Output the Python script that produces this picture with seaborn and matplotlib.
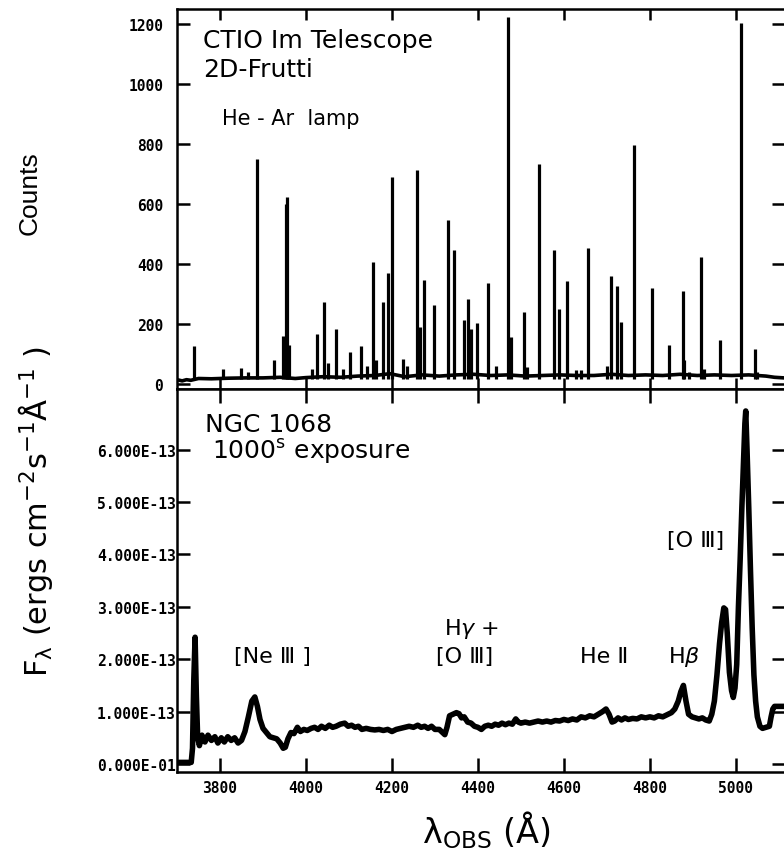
import seaborn as sns
import matplotlib.pyplot as plt

# He-Ar lamp spectrum: continuum level and emission line peaks (counts)
lamp_base_wl = [3700, 3712, 3722, 3732, 3750, 3780, 3820, 3860, 3900, 3940, 3975,
                4000, 4040, 4080, 4120, 4160, 4195, 4230, 4270, 4310, 4350, 4390,
                4430, 4470, 4510, 4550, 4590, 4630, 4670, 4710, 4750, 4790, 4830,
                4870, 4910, 4950, 4990, 5030, 5070, 5090, 5112]
lamp_base_counts = [14, 10, 14, 12, 18, 17, 19, 20, 20, 22, 18,
                    21, 24, 22, 26, 28, 34, 24, 30, 26, 30, 32,
                    28, 30, 26, 28, 30, 28, 28, 32, 28, 30, 28,
                    32, 28, 30, 28, 30, 26, 22, 20]
lamp_line_wl = [3740, 3806, 3848, 3865, 3886, 3926, 3946, 3953, 3956, 3961,
                4013, 4025, 4043, 4051, 4070, 4085, 4102, 4129, 4141, 4157,
                4162, 4180, 4190, 4200, 4226, 4234, 4258, 4266, 4275, 4298,
                4331, 4345, 4368, 4377, 4384, 4398, 4423, 4443, 4469, 4477,
                4508, 4513, 4543, 4577, 4588, 4608, 4628, 4640, 4656, 4700,
                4709, 4724, 4733, 4764, 4804, 4845, 4877, 4880, 4890, 4920,
                4926, 4963, 5013, 5044, 5050]
lamp_line_counts = [127, 50, 53, 40, 750, 80, 160, 600, 623, 130,
                    50, 167, 274, 70, 183, 50, 108, 127, 60, 408,
                    80, 274, 370, 690, 83, 60, 714, 190, 345, 262,
                    545, 447, 214, 282, 184, 203, 337, 60, 1222, 157,
                    239, 55, 733, 447, 250, 344, 45, 45, 453, 60,
                    361, 326, 208, 797, 319, 130, 311, 80, 40, 424,
                    50, 148, 1203, 117, 40]

# NGC 1068 spectrum, F_lambda in units of 1e-13 erg cm^-2 s^-1 A^-1
ngc_wl = [3700, 3720, 3733, 3736, 3739, 3742, 3745, 3748, 3752, 3758, 3765, 3772,
          3780, 3788, 3795, 3803, 3810, 3818, 3826, 3834, 3842, 3850, 3858, 3866,
          3874, 3881, 3887, 3893, 3900, 3908, 3916, 3924, 3932, 3940, 3947, 3952,
          3958, 3965, 3972, 3980, 3987, 3995, 4003, 4012, 4020, 4028, 4036, 4045,
          4054, 4062, 4070, 4080, 4090, 4098, 4106, 4114, 4122, 4130, 4140, 4150,
          4160, 4170, 4180, 4190, 4200, 4210, 4220, 4230, 4240, 4250, 4260, 4268,
          4276, 4284, 4292, 4300, 4310, 4318, 4323, 4328, 4334, 4342, 4350, 4356,
          4362, 4368, 4376, 4384, 4392, 4400, 4408, 4416, 4424, 4432, 4440, 4448,
          4456, 4464, 4472, 4480, 4488, 4494, 4500, 4510, 4520, 4530, 4540, 4550,
          4560, 4570, 4580, 4590, 4600, 4610, 4620, 4630, 4640, 4650, 4660, 4670,
          4680, 4690, 4698, 4705, 4712, 4718, 4726, 4734, 4742, 4750, 4760, 4770,
          4780, 4790, 4800, 4810, 4820, 4830, 4840, 4850, 4858, 4866, 4872, 4878,
          4884, 4890, 4898, 4906, 4914, 4922, 4930, 4938, 4944, 4950, 4956, 4962,
          4967, 4972, 4976, 4980, 4985, 4990, 4994, 4998, 5002, 5006, 5010, 5014,
          5018, 5021, 5023, 5026, 5030, 5034, 5038, 5042, 5046, 5050, 5056, 5062,
          5070, 5078, 5082, 5086, 5090, 5112]
ngc_flux = [0.03, 0.03, 0.03, 0.3, 1.6, 2.42, 1.3, 0.5, 0.35, 0.55, 0.42, 0.55,
            0.45, 0.52, 0.4, 0.5, 0.42, 0.52, 0.45, 0.5, 0.4, 0.45, 0.62, 0.9,
            1.2, 1.28, 1.1, 0.85, 0.68, 0.6, 0.52, 0.5, 0.48, 0.4, 0.3, 0.32,
            0.48, 0.6, 0.58, 0.7, 0.62, 0.66, 0.64, 0.68, 0.7, 0.66, 0.72, 0.68,
            0.74, 0.7, 0.72, 0.76, 0.78, 0.72, 0.74, 0.7, 0.72, 0.66, 0.68, 0.66,
            0.65, 0.66, 0.64, 0.66, 0.62, 0.66, 0.68, 0.7, 0.72, 0.7, 0.74, 0.7,
            0.72, 0.68, 0.72, 0.66, 0.66, 0.6, 0.56, 0.7, 0.92, 0.95, 0.98, 0.96,
            0.88, 0.9, 0.8, 0.78, 0.72, 0.7, 0.66, 0.72, 0.74, 0.72, 0.76, 0.74,
            0.78, 0.75, 0.78, 0.76, 0.86, 0.8, 0.78, 0.8, 0.78, 0.8, 0.82, 0.8,
            0.82, 0.8, 0.83, 0.82, 0.85, 0.83, 0.86, 0.84, 0.9, 0.88, 0.92, 0.9,
            0.95, 1.0, 1.05, 0.95, 0.8, 0.82, 0.88, 0.84, 0.88, 0.85, 0.87, 0.86,
            0.9, 0.88, 0.9, 0.88, 0.92, 0.9, 0.94, 0.98, 1.05, 1.2, 1.38, 1.5,
            1.2, 0.95, 0.9, 0.88, 0.86, 0.88, 0.84, 0.82, 0.95, 1.2, 1.7, 2.3,
            2.7, 2.98, 2.95, 2.5, 1.75, 1.4, 1.27, 1.45, 1.9, 3.0, 3.9, 4.9,
            5.8, 6.5, 6.74, 6.0, 4.9, 3.7, 2.6, 1.7, 1.2, 0.9, 0.72, 0.68,
            0.7, 0.72, 0.9, 1.05, 1.1, 1.1]

wl_ticks = [3800, 4000, 4200, 4400, 4600, 4800, 5000]
counts_ticks = [0, 200, 400, 600, 800, 1000, 1200]
flux_ticks = [0, 1, 2, 3, 4, 5, 6]
flux_tick_labels = ["0.000E-01", "1.000E-13", "2.000E-13", "3.000E-13",
                    "4.000E-13", "5.000E-13", "6.000E-13"]

sns.set_theme(style="ticks")
plt.rcParams['font.family'] = ['DejaVu Sans']
plt.rcParams['mathtext.fontset'] = 'dejavusans'
for key in ('text.color', 'axes.labelcolor', 'xtick.color', 'ytick.color', 'axes.edgecolor'):
    plt.rcParams[key] = 'black'

tick_font = dict(fontfamily='DejaVu Sans Mono', fontweight='bold', fontsize=10.5)

fig = plt.figure(figsize=(7.84, 8.53), dpi=100)
ax1 = fig.add_axes([0.2258, 0.5428, 0.7742, 0.4455])
ax2 = fig.add_axes([0.2258, 0.0938, 0.7742, 0.449])

# top panel: lamp
sns.lineplot(x=lamp_base_wl, y=lamp_base_counts, ax=ax1, color='black',
             linewidth=2.6, estimator=None)
ax1.vlines(lamp_line_wl, 15, lamp_line_counts, color='black', linewidth=2.3)
ax1.set_xlim(3700, 5112)
ax1.set_ylim(-17, 1250)
ax1.set_xticks(wl_ticks, [])
ax1.set_yticks(counts_ticks, [str(v) for v in counts_ticks], **tick_font)
ax1.tick_params(axis='x', direction='in', top=True, bottom=True, length=8, width=1.8)
ax1.tick_params(axis='y', direction='in', left=True, right=True, length=9, width=1.8, pad=10)

ax1.text(3760, 1122, "CTIO Im Telescope", fontsize=18)
ax1.text(3760, 1028, "2D-Frutti", fontsize=18)
ax1.text(3804, 867, "He - Ar  lamp", fontsize=15)

# bottom panel: NGC 1068
sns.lineplot(x=ngc_wl, y=ngc_flux, ax=ax2, color='black', linewidth=4.0,
             estimator=None)
ax2.set_xlim(3700, 5112)
ax2.set_ylim(-0.153, 7.16)
ax2.set_xticks(wl_ticks, [str(v) for v in wl_ticks], **tick_font)
ax2.set_yticks(flux_ticks, flux_tick_labels, **tick_font)
ax2.tick_params(axis='x', direction='in', top=True, bottom=True, length=10, width=1.8, pad=6)
ax2.tick_params(axis='y', direction='in', left=True, right=True, length=9, width=1.8, pad=1)

ax2.text(3765, 6.36, "NGC 1068", fontsize=18)
ax2.text(3781, 5.84, r"1000$^{\rm s}$ exposure", fontsize=18)
ax2.text(3921, 1.95, "[Ne Ⅲ ]", fontsize=16, ha='center')
ax2.text(4386, 2.48, "H$\\gamma$ +", fontsize=16, ha='center')
ax2.text(4369, 1.94, "[O Ⅲ]", fontsize=16, ha='center')
ax2.text(4693, 1.95, "He Ⅱ", fontsize=16, ha='center')
ax2.text(4879, 1.95, "H$\\beta$", fontsize=16, ha='center')
ax2.text(4906, 4.17, "[O Ⅲ]", fontsize=16, ha='center')

for ax in (ax1, ax2):
    for side in ('left', 'top', 'bottom'):
        ax.spines[side].set_linewidth(1.8)
        ax.spines[side].set_color('black')
    ax.spines['right'].set_visible(False)
    ax.set_xlabel('')
    ax.set_ylabel('')

fig.text(0.038, 0.774, "Counts", rotation=90, fontsize=19, ha='center', va='center',
         family='Liberation Sans')
fig.text(0.045, 0.40, r"F$_{\mathrm{λ}}$ (ergs cm$^{-2}$s$^{-1}$Å$^{-1}$ )", rotation=90,
         fontsize=22, ha='center', va='center')
fig.text(0.621, 0.027, r"λ$_{\rm OBS}$ (Å)", fontsize=24, ha='center', va='center')

fig.savefig("out.png", dpi=100)
